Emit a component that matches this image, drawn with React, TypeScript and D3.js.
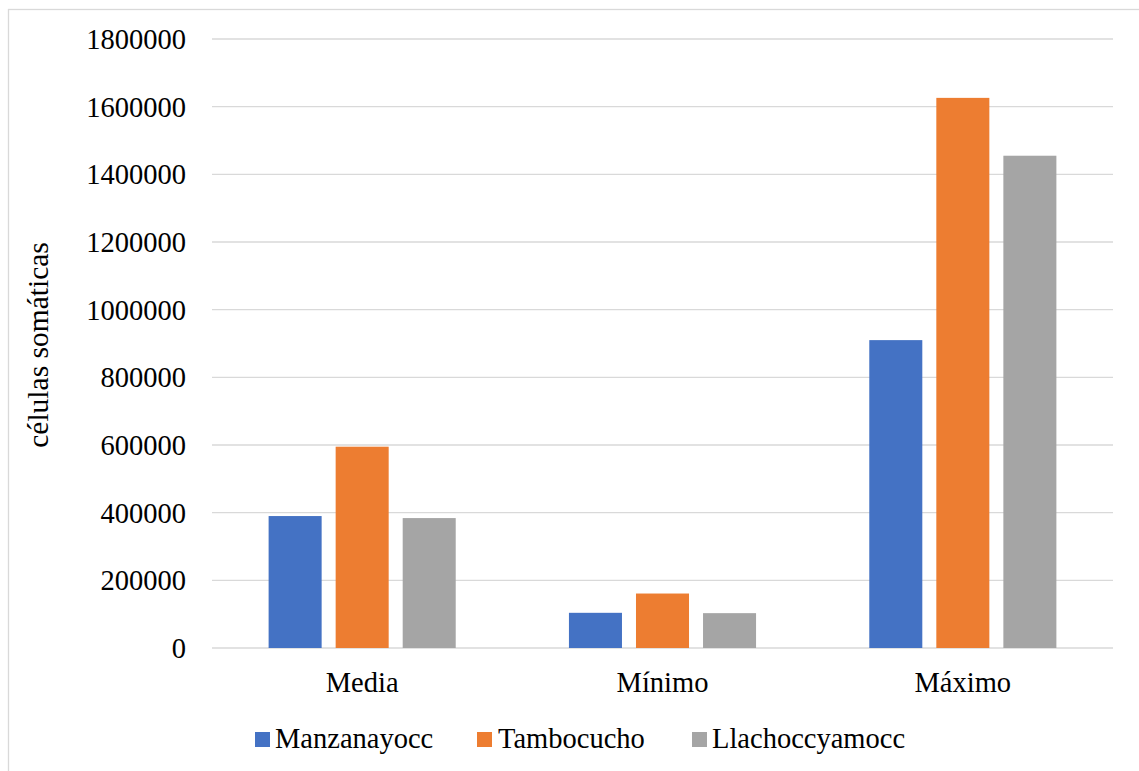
import React from "react";
import * as d3 from "d3";

const categories = ["Media", "Mínimo", "Máximo"];
const seriesNames = ["Manzanayocc", "Tambocucho", "Llachoccyamocc"];
const seriesColors = ["#4472C4", "#ED7D31", "#A5A5A5"];
const manzanayocc = [390000, 104000, 910000];
const tambocucho = [595000, 161000, 1626000];
const llachoccyamocc = [384000, 103000, 1455000];
const yTicks = [0, 200000, 400000, 600000, 800000, 1000000, 1200000, 1400000, 1600000, 1800000];
const yTitle = "células somáticas";

const seriesValues = [manzanayocc, tambocucho, llachoccyamocc];

export default function App() {
  const W = 1139, H = 771;
  const left = 212, right = 1113, top = 39, bottom = 648;
  const fs = 28.5;
  const ts = { fontFamily: "'Liberation Serif', 'Times New Roman', serif" };

  const y = d3.scaleLinear().domain([0, 1800000]).range([bottom, top]);
  const x0 = d3.scaleBand<string>().domain(categories).range([left, right]).paddingInner(0.377).paddingOuter(0.1885);
  const x1 = d3.scaleBand<string>().domain(seriesNames).range([0, x0.bandwidth()]).paddingInner(0.209).paddingOuter(0);

  const legendItems = [
    { sq: 255, tx: 275 },
    { sq: 477, tx: 498 },
    { sq: 692, tx: 712 },
  ];

  return (
    <svg width={W} height={H} style={{ position: "absolute", left: 0, top: 0, background: "#fff" }}>
      <rect x={8.5} y={9.5} width={1200} height={900} fill="#fff" stroke="#d9d9d9" strokeWidth={1.3} />
      {yTicks.map((t) => (
        <g key={t}>
          <line x1={left} x2={right} y1={y(t)} y2={y(t)} stroke="#d9d9d9" strokeWidth={1.3} />
          <text style={ts} x={186} y={y(t)} dy="0.35em" textAnchor="end" fontSize={fs} fill="#000">{t}</text>
        </g>
      ))}
      {categories.map((c, ci) => (
        <g key={c} transform={`translate(${x0(c)},0)`}>
          {seriesNames.map((s, si) => (
            <rect key={s} x={x1(s)} y={y(seriesValues[si][ci])} width={x1.bandwidth()} height={bottom - y(seriesValues[si][ci])} fill={seriesColors[si]} />
          ))}
        </g>
      ))}
      {categories.map((c) => (
        <text style={ts} key={c} x={(x0(c) as number) + x0.bandwidth() / 2} y={692} textAnchor="middle" fontSize={fs} fill="#000">{c}</text>
      ))}
      <text style={ts} transform={`translate(48,345) rotate(-90)`} textAnchor="middle" fontSize={29.5} fill="#000">{yTitle}</text>
      {seriesNames.map((s, i) => (
        <g key={s}>
          <rect x={legendItems[i].sq} y={732} width={15} height={15} fill={seriesColors[i]} />
          <text style={ts} x={legendItems[i].tx} y={748} fontSize={fs} fill="#000">{s}</text>
        </g>
      ))}
    </svg>
  );
}
